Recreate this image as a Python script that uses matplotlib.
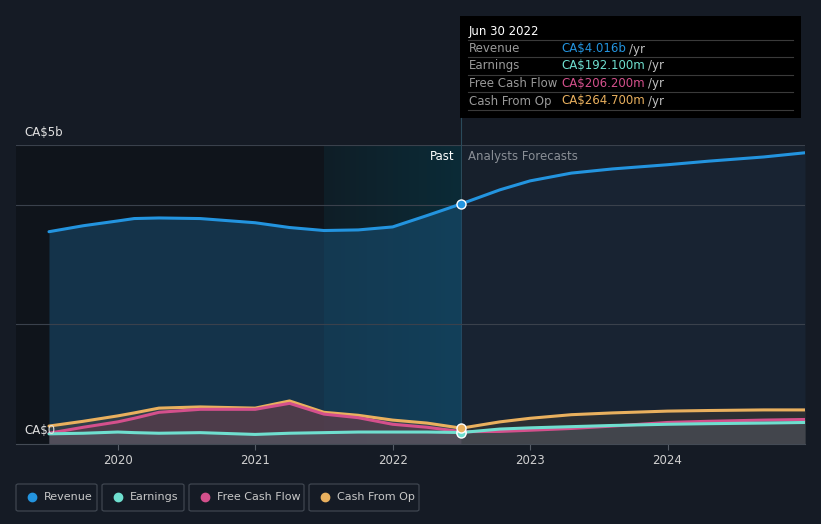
import numpy as np
import matplotlib.pyplot as plt
from matplotlib.patches import FancyBboxPatch, Rectangle
from matplotlib.colors import LinearSegmentedColormap

# data (values in CA$ billions, x in fractional years)
years_past = [2019.5, 2019.75, 2020.0, 2020.12, 2020.3, 2020.6, 2021.0, 2021.25, 2021.5, 2021.75, 2022.0, 2022.25, 2022.5]
revenue_past = [3.55, 3.65, 3.73, 3.77, 3.78, 3.77, 3.70, 3.62, 3.57, 3.58, 3.63, 3.82, 4.016]
earnings_past = [0.17, 0.18, 0.20, 0.19, 0.18, 0.19, 0.16, 0.18, 0.19, 0.20, 0.20, 0.20, 0.192]
fcf_past = [0.18, 0.28, 0.37, 0.43, 0.53, 0.58, 0.58, 0.68, 0.50, 0.44, 0.33, 0.28, 0.206]
cfo_past = [0.30, 0.38, 0.47, 0.52, 0.60, 0.62, 0.60, 0.72, 0.53, 0.48, 0.40, 0.35, 0.265]

years_fc = [2022.5, 2022.78, 2023.0, 2023.3, 2023.6, 2024.0, 2024.3, 2024.7, 2025.0]
revenue_fc = [4.016, 4.25, 4.40, 4.53, 4.60, 4.67, 4.73, 4.80, 4.87]
earnings_fc = [0.192, 0.25, 0.27, 0.29, 0.31, 0.33, 0.34, 0.35, 0.36]
fcf_fc = [0.206, 0.21, 0.23, 0.26, 0.30, 0.36, 0.38, 0.40, 0.41]
cfo_fc = [0.265, 0.37, 0.43, 0.49, 0.52, 0.55, 0.56, 0.57, 0.57]

tick_years = [2020, 2021, 2022, 2023, 2024]
series_names = ["Revenue", "Earnings", "Free Cash Flow", "Cash From Op"]
series_colors = ["#2394df", "#6fdfcf", "#d4508c", "#e9b05e"]
tooltip_values = ["CA$4.016b", "CA$192.100m", "CA$206.200m", "CA$264.700m"]

bg = "#151b25"
fs = 8.5
fig = plt.figure(figsize=(8.21, 5.24), dpi=100, facecolor=bg)
W, H = 821, 524
ax = fig.add_axes([16 / W, (H - 444) / H, (805 - 16) / W, (444 - 145) / H])
ax.set_facecolor("#17202c")

x0, x1 = 2019.26, 2025.0

# past region darker background + highlight gradient
ax.axvspan(x0, 2022.5, color="#0f141b", zorder=0)
grad = np.linspace(0, 1, 256).reshape(1, -1)
ax.imshow(grad, extent=[2021.5, 2022.5, 0, 5.0], aspect="auto",
          cmap=LinearSegmentedColormap.from_list("h", ["#0f1e27", "#0b2b37"]), zorder=0.5)
ax.set_xlim(x0, x1)
ax.set_ylim(0, 5.0)

yrs = years_past + years_fc[1:]
rev = revenue_past + revenue_fc[1:]
ear = earnings_past + earnings_fc[1:]
fcf = fcf_past + fcf_fc[1:]
cfo = cfo_past + cfo_fc[1:]

# fills
ax.fill_between(years_past, revenue_past, 0, color="#1b5a85", alpha=0.45, zorder=2, lw=0)
ax.fill_between(years_fc, revenue_fc, 0, color="#182332", alpha=1.0, zorder=2, lw=0)
ax.fill_between(years_past, cfo_past, 0, color="#4a4a48", alpha=0.55, zorder=3, lw=0)
ax.fill_between(years_past, fcf_past, 0, color="#6a3a4c", alpha=0.5, zorder=3, lw=0)
ax.fill_between(years_past, earnings_past, 0, color="#55606a", alpha=0.5, zorder=3, lw=0)
ax.fill_between(years_fc, cfo_fc, 0, color="#2c2f33", zorder=3, lw=0)
ax.fill_between(years_fc, fcf_fc, 0, color="#42454c", zorder=3, lw=0)

# grid lines (above the fills)
for g in [2.0, 4.0, 5.0]:
    ax.axhline(g, color="#3a414c", lw=0.8, zorder=3.5)

# lines
for vals, c in zip([rev, cfo, fcf, ear], [series_colors[0], series_colors[3], series_colors[2], series_colors[1]]):
    ax.plot(yrs, vals, color=c, lw=2.2, zorder=4, solid_capstyle="round")

# markers at Jun 30 2022
for vals, c in zip([revenue_past, fcf_past, earnings_past, cfo_past], [series_colors[0], series_colors[2], series_colors[1], series_colors[3]]):
    ax.plot([2022.5], [vals[-1]], "o", color=c, mec="white", mew=1.0, ms=6.5, zorder=5)

ax.axvline(2022.5, color="#2a4a5a", lw=0.8, zorder=1.5)

ax.text(2022.45, 4.81, "Past", color="white", fontsize=fs, ha="right", va="center", zorder=6)
ax.text(2022.55, 4.81, "Analysts Forecasts", color="#8a8f96", fontsize=fs, ha="left", va="center", zorder=6)

# axes styling
for s in ["top", "right", "left"]:
    ax.spines[s].set_visible(False)
ax.spines["bottom"].set_color("#444b55")
ax.spines["bottom"].set_zorder(6)
ax.set_yticks([])
ax.set_xticks(tick_years)
ax.set_xticklabels([str(t) for t in tick_years], color="#d0d0d0", fontsize=fs)
ax.tick_params(axis="x", colors="#555c66", labelcolor="#d0d0d0", length=4, width=0.8, pad=3)

fig.text(24 / W, 1 - 132 / H, "CA$5b", color="#e0e0e0", fontsize=fs, va="center")
fig.text(24 / W, 1 - 431 / H, "CA$0", color="#e0e0e0", fontsize=fs, va="center")

# connector line from tooltip
fig.add_artist(plt.Line2D([461 / W, 461 / W], [1 - 118 / H, 1 - 145 / H], color="#2a4a5a", lw=0.8))

# tooltip
fig.add_artist(Rectangle((460 / W, 1 - 118 / H), 341 / W, 102 / H, facecolor="black", edgecolor="none"))
fig.text(469 / W, 1 - 31 / H, "Jun 30 2022", color="white", fontsize=fs, va="center")
row_y = [49, 66, 84, 101]
fig.canvas.draw()
for i, (nm, val, c) in enumerate(zip(series_names, tooltip_values, series_colors)):
    yy = row_y[i]
    fig.add_artist(plt.Line2D([468 / W, 793 / W], [1 - (yy - 9) / H] * 2, color="#3a3a3a", lw=0.8))
    fig.text(469 / W, 1 - yy / H, nm, color="#9a9a9a", fontsize=fs, va="center")
    t = fig.text(561 / W, 1 - yy / H, val, color=c, fontsize=fs, va="center")
    bb = t.get_window_extent(renderer=fig.canvas.get_renderer())
    fig.text((bb.x1 + 3) / W, 1 - yy / H, "/yr", color="#c0c0c0", fontsize=fs, va="center")
fig.add_artist(plt.Line2D([468 / W, 793 / W], [1 - 110 / H] * 2, color="#3a3a3a", lw=0.8))

# legend boxes
boxes = [(16, 97), (102, 184), (189, 304), (309, 419)]
for (bx0, bx1), nm, c in zip(boxes, series_names, series_colors):
    fig.add_artist(FancyBboxPatch((bx0 / W, 1 - 511 / H), (bx1 - bx0) / W, 27 / H,
                                  boxstyle="round,pad=0,rounding_size=0.003", facecolor="none", edgecolor="#3f4650", lw=0.9))
    fig.add_artist(plt.Line2D([(bx0 + 16) / W], [1 - 497 / H], marker="o", color=c, ms=6, mec=c))
    fig.text((bx0 + 28) / W, 1 - 497 / H, nm, color="#c8c8c8", fontsize=8, va="center")

fig.savefig("out.png", dpi=100, facecolor=bg)
